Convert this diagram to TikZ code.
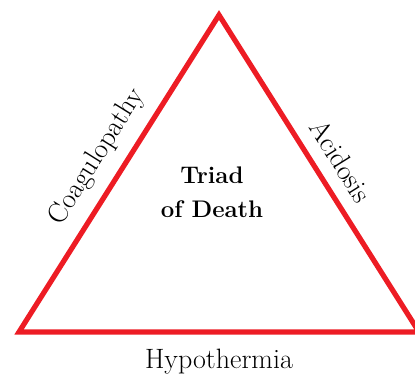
\documentclass[tikz,border=0pt]{standalone}
\usepackage{fontspec}
\definecolor{triadred}{RGB}{237,28,36}
\tikzset{
  side/.style={draw=triadred, line width=5.2pt, line join=miter},
  lbl/.style={font=\fontsize{28}{32}\selectfont, inner sep=0pt},
  ctr/.style={font=\bfseries\fontsize{24}{34}\selectfont, align=center, inner sep=0pt}
}
\begin{document}
\begin{tikzpicture}[x=1pt,y=-1pt]
\useasboundingbox (0,0) rectangle (415,380);
\coordinate (top) at (219,15);
\coordinate (bl) at (19,332);
\coordinate (br) at (419,332);
\draw[side] (top) -- (br) -- (bl) -- cycle;
\node[ctr] (center) at (212,192) {Triad\\of Death};
\node[lbl, rotate=57.9] (coag) at (97,157) {Coagulopathy};
\node[lbl, rotate=-57.9] (acid) at (341,161) {Acidosis};
\node[lbl] (hypo) at (219,362) {Hypothermia};
\end{tikzpicture}
\end{document}
